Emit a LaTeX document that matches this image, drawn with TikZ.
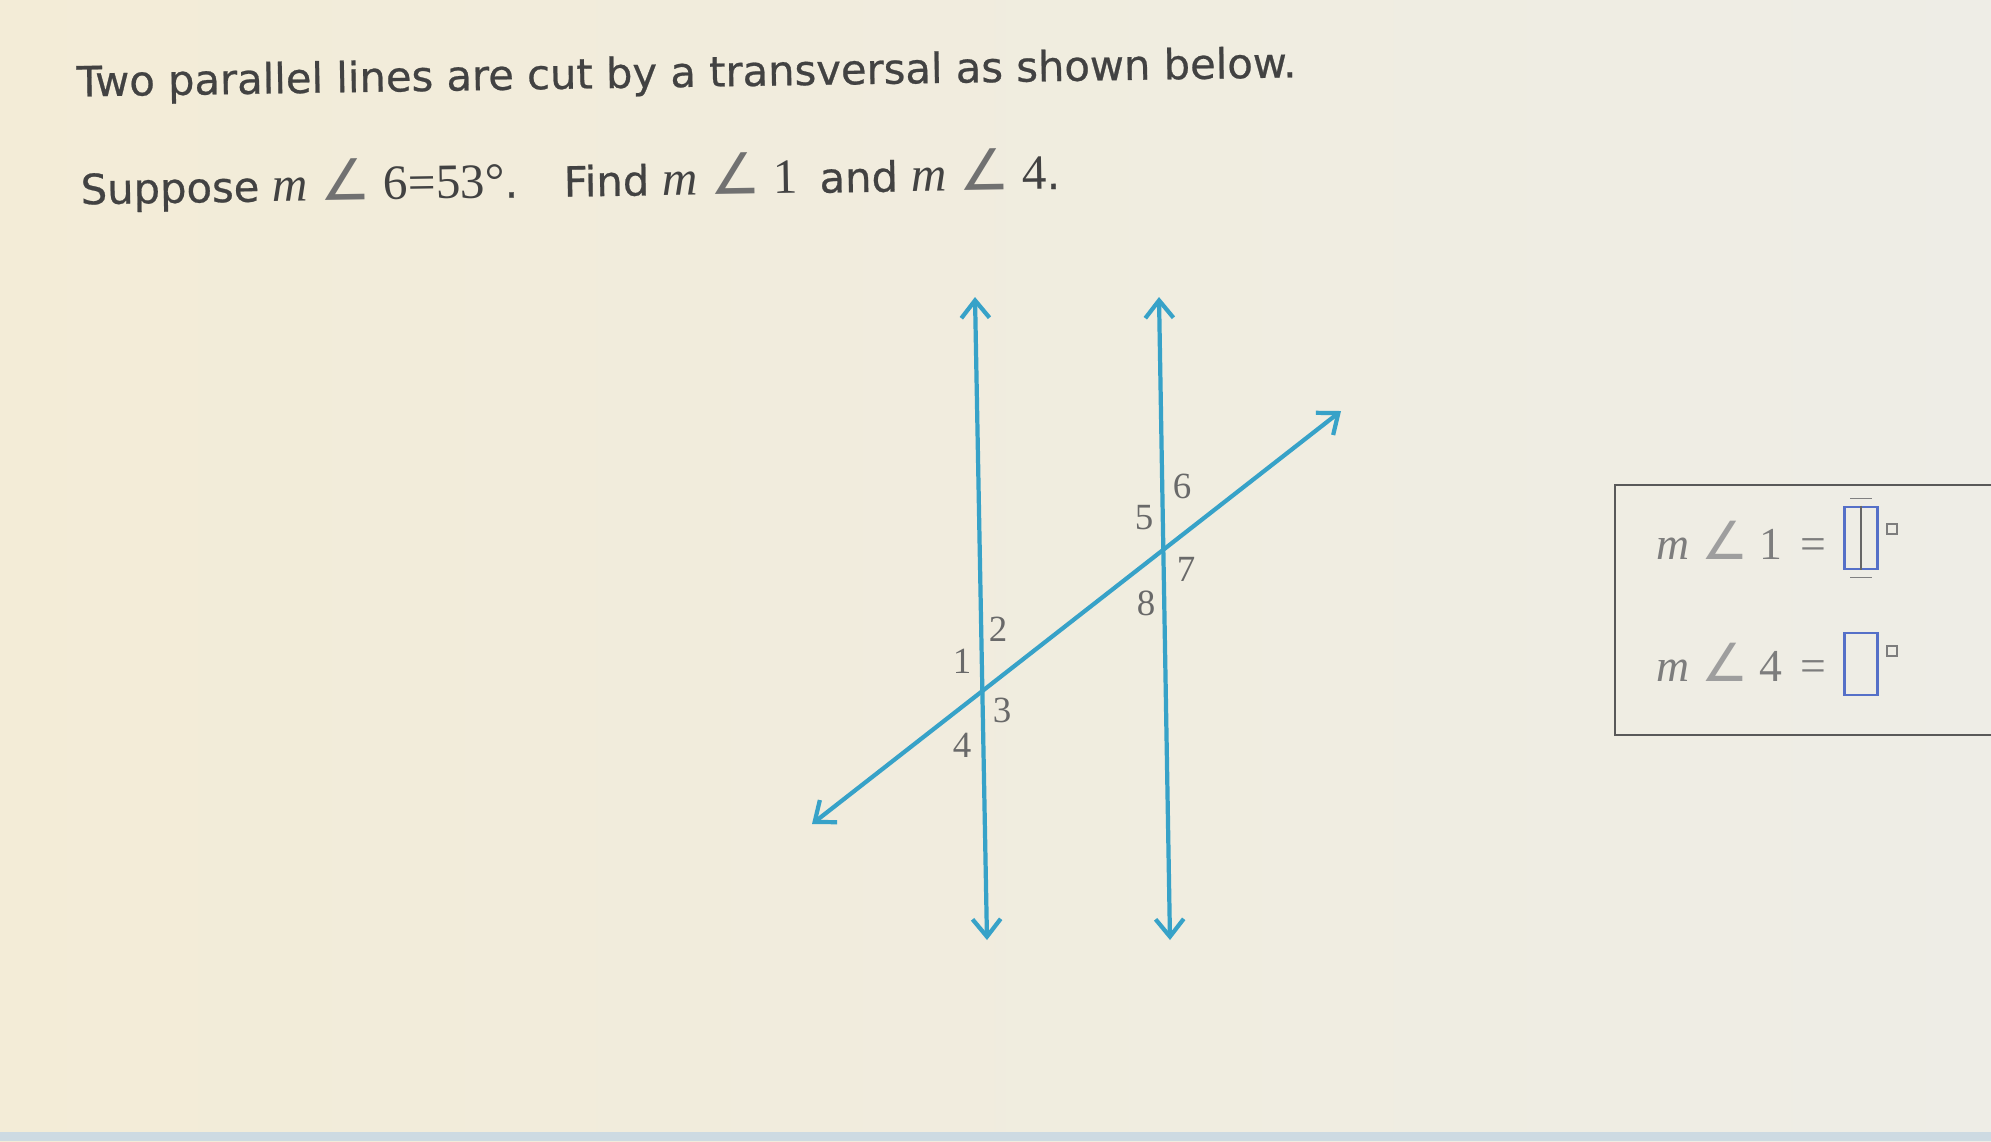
\documentclass[tikz,border=0pt]{standalone}
\usepackage{graphicx}
\usepackage{fontspec}
\setmainfont{DejaVu Sans}
\newfontfamily\titlefont{DejaVu Sans}[FakeBold=0.6]
\newfontfamily\symfont{DejaVu Sans}
\newfontfamily\numfont{Liberation Serif}
\usepackage{tikz}
\usetikzlibrary{arrows.meta, positioning}
\definecolor{lineblue}{RGB}{55,162,200}
\definecolor{textgray}{RGB}{66,66,66}
\definecolor{labelgray}{RGB}{105,105,105}
\definecolor{anslgray}{RGB}{125,125,125}
\definecolor{boxblue}{RGB}{85,112,200}
\definecolor{paperleft}{RGB}{243,236,215}
\definecolor{paperright}{RGB}{238,237,230}
\definecolor{stripblue}{RGB}{205,218,226}
% m, angle sign and number
\newcommand{\mang}[1]{{\itshape m}\hspace{0.25em}{\symfont\color{.!75}\scalebox{1.15}{∠}}\hspace{0.25em}#1}
\tikzset{
    parline/.style={{Straight Barb[length=5pt,width=8pt]}-{Straight Barb[length=5pt,width=8pt]}, lineblue, line width=1.2pt},
    anglabel/.style={text=labelgray, font=\numfont\fontsize{10.5}{12}\selectfont, inner sep=0pt},
    titletext/.style={text=textgray, font=\titlefont\fontsize{11.85}{13}\selectfont, anchor=west, inner sep=0pt, rotate=0.9},
    anstext/.style={text=anslgray, font=\numfont\fontsize{13}{15}\selectfont, anchor=west, inner sep=0pt},
    inbox/.style={draw=boxblue, line width=0.8pt, minimum width=0.33cm, minimum height=0.62cm, inner sep=0pt},
    degbox/.style={draw=anslgray, line width=0.5pt, minimum size=0.1cm, inner sep=0pt}
}
\newcommand{\qmath}{\numfont\fontsize{14}{16}\selectfont}

\begin{document}
\begin{tikzpicture}[x=0.01cm, y=-0.01cm]
    % Page
    \useasboundingbox (0,0) rectangle (1991,1141);
    \clip (0,0) rectangle (1991,1141);
    \shade[left color=paperleft, right color=paperright] (0,0) rectangle (1991,1141);
    \fill[stripblue] (0,1132) rectangle (1991,1141);
    % Question
    \node[titletext] (line1) at (76,85) {Two parallel lines are cut by a transversal as shown below.};
    \node[titletext] (line2) at (80,188) {Suppose {\qmath\mang{6}=53°}.\hspace{1.1em}Find {\qmath\mang{1}}\hspace{0.2em} and {\qmath\mang{4}}.};
    % Parallel lines
    \coordinate (ltop) at (975,297);
    \coordinate (lbot) at (987,940);
    \coordinate (rtop) at (1159,297);
    \coordinate (rbot) at (1170,940);
    \draw[parline] (lbot) -- (ltop);
    \draw[parline] (rbot) -- (rtop);
    % Transversal
    \coordinate (tlow) at (812,824);
    \coordinate (thigh) at (1341,411);
    \draw[parline] (tlow) -- (thigh);
    % Angle numbers
    \node[anglabel] (a1) at (962,661) {1};
    \node[anglabel] (a2) at (998,629) {2};
    \node[anglabel] (a3) at (1002,710) {3};
    \node[anglabel] (a4) at (962,745) {4};
    \node[anglabel] (a5) at (1144,518) {5};
    \node[anglabel] (a6) at (1182,486) {6};
    \node[anglabel] (a7) at (1186,569) {7};
    \node[anglabel] (a8) at (1146,603) {8};
    % Answer panel
    \draw[draw=black!65, line width=0.6pt] (1615,485) rectangle (2040,735);
    \node[anstext] (q1) at (1656,540) {\mang{1}\hspace{0.4em}=};
    \node[inbox] (b1) at (1861,538) {};
    \draw[black!60, line width=0.6pt] (b1.north) -- (b1.south);
    \draw[black!50, line width=0.5pt] ([xshift=-3pt, yshift=2pt]b1.north) -- ([xshift=3pt, yshift=2pt]b1.north);
    \draw[black!50, line width=0.5pt] ([xshift=-3pt, yshift=-2pt]b1.south) -- ([xshift=3pt, yshift=-2pt]b1.south);
    \node[degbox] (d1) at (1892,529) {};
    \node[anstext] (q4) at (1656,662) {\mang{4}\hspace{0.4em}=};
    \node[inbox] (b4) at (1861,664) {};
    \node[degbox] (d4) at (1892,651) {};
\end{tikzpicture}
\end{document}
